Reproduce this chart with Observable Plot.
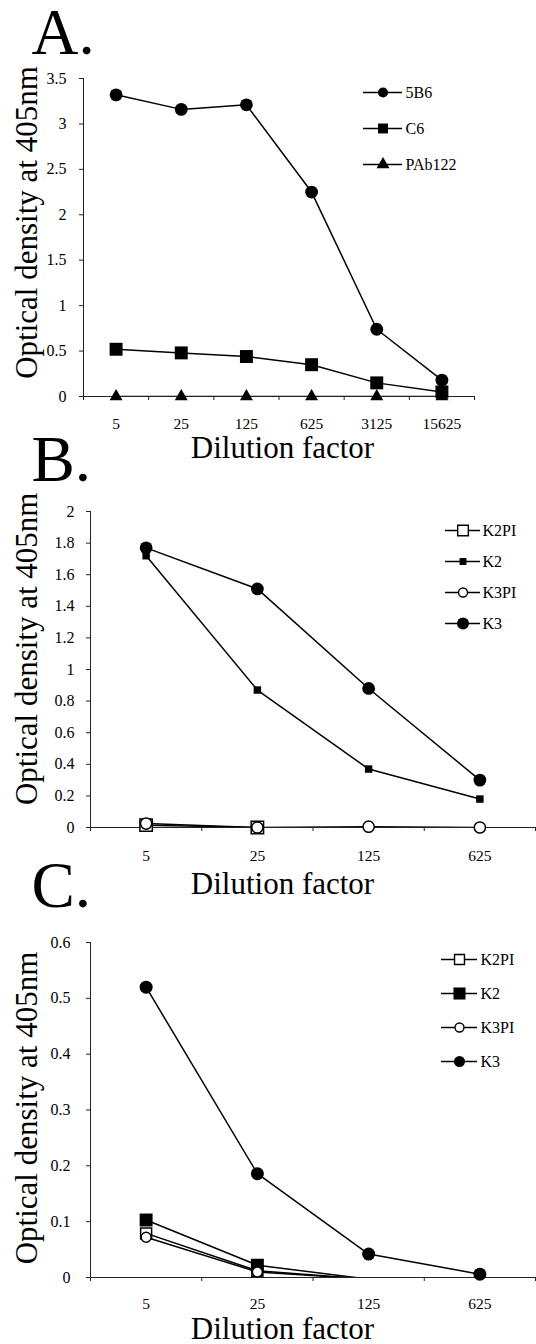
<!DOCTYPE html>
<html><head><meta charset="utf-8">
<script src="https://cdn.jsdelivr.net/npm/d3@7"></script>
<script src="https://cdn.jsdelivr.net/npm/@observablehq/plot@0.6"></script>
<style>
body{margin:0;background:#fff;}
#root{position:relative;width:536px;height:1344px;overflow:hidden;}
#root svg{position:absolute;left:0;overflow:visible;background:transparent !important;}
#root svg, #root svg text, #root svg g{font-family:"Liberation Serif","Times New Roman",Times,serif !important;}
</style></head><body><div id="root"></div>
<script>
// ---------- data ----------
const yLabel = "Optical density at 405nm";
const xLabel = "Dilution factor";

const dilutionA = ["5", "25", "125", "625", "3125", "15625"];
const namesA = ["5B6", "C6", "PAb122"];
const A_5B6 = [3.32, 3.16, 3.21, 2.25, 0.74, 0.18];
const A_C6 = [0.52, 0.48, 0.44, 0.35, 0.15, 0.05];
const A_PAb122 = [0, 0, 0, 0, 0, 0];
const yTicksA = [0, 0.5, 1, 1.5, 2, 2.5, 3, 3.5];

const dilutionBC = ["5", "25", "125", "625"];
const namesBC = ["K2PI", "K2", "K3PI", "K3"];
const B_K2PI = [0.015, 0.0, null, null];
const B_K2 = [1.72, 0.87, 0.37, 0.18];
const B_K3PI = [0.025, 0.0, 0.005, 0.0];
const B_K3 = [1.77, 1.51, 0.88, 0.30];
const yTicksB = [0, 0.2, 0.4, 0.6, 0.8, 1, 1.2, 1.4, 1.6, 1.8, 2];

const C_K2PI = [0.079, 0.012, -0.003, -0.003];
const C_K2 = [0.103, 0.022, -0.003, -0.003];
const C_K3PI = [0.072, 0.01, -0.003, -0.003];
const C_K3 = [0.52, 0.186, 0.042, 0.006];
const yTicksC = [0, 0.1, 0.2, 0.3, 0.4, 0.5, 0.6];

// ---------- style ----------
const FONT = '"Liberation Serif","Times New Roman",Times,serif';
const AXIS = "#222";
const root = document.getElementById("root");

function panel(o) {
  const n = o.cats.length;
  const idx = d3.range(n);
  const bounds = d3.range(n + 1).map(i => i - 0.5);
  const marks = [
    Plot.ruleY([0], {stroke: AXIS, strokeWidth: 1}),
    Plot.ruleX([-0.5], {stroke: AXIS, strokeWidth: 1}),
    Plot.axisY({ticks: o.yTicks, tickFormat: d => String(d), tickSize: 4, tickPadding: o.yTickPad, fontSize: 16, fontFamily: FONT, label: null, stroke: AXIS}),
    Plot.axisX({ticks: idx, tickFormat: i => o.cats[i], tickSize: 0, tickPadding: o.xTickPad, fontSize: 15.5, fontFamily: FONT, label: null}),
    Plot.axisX({ticks: bounds, tickFormat: () => "", tickSize: 4, label: null, stroke: AXIS})
  ];
  for (const s of o.series) {
    const rows = s.values.map((v, i) => ({i, v, name: s.name})).filter(d => d.v != null);
    marks.push(Plot.line(rows, {x: "i", y: "v", stroke: "black", strokeWidth: 1.5, clip: true}));
    marks.push(Plot.dot(rows.filter(d => d.v >= 0), {
      x: "i", y: "v", symbol: s.symbol, r: s.r,
      fill: s.open ? "white" : "black", stroke: "black", strokeWidth: s.open ? 1.5 : 0
    }));
  }
  marks.push(Plot.text([o.letter], {text: d => d, frameAnchor: "top-left", textAnchor: "start", lineAnchor: "bottom", dx: o.letterDx, dy: o.letterDy, fontSize: 65, fontFamily: FONT}));
  marks.push(Plot.text([yLabel], {text: d => d, frameAnchor: "left", rotate: -90, textAnchor: "middle", lineAnchor: "bottom", dx: o.ylabDx, dy: o.ylabDy, fontSize: 31, fontFamily: FONT}));
  marks.push(Plot.text([xLabel], {text: d => d, frameAnchor: "bottom", textAnchor: "middle", lineAnchor: "bottom", dx: o.xlabDx, dy: o.xlabDy, fontSize: 31, fontFamily: FONT}));

  const svg = Plot.plot({
    width: 536, height: o.height,
    marginTop: o.marginTop, marginBottom: o.marginBottom, marginLeft: o.marginLeft, marginRight: o.marginRight,
    x: {domain: [-0.5, n - 0.5]},
    y: {domain: o.yDomain},
    style: {fontFamily: FONT, fontSize: "16px", background: "transparent", overflow: "visible", color: "black"},
    marks
  });
  svg.style.top = o.top + "px";
  root.appendChild(svg);
}

function legend(o) {
  const names = o.series.map(s => s.name);
  const marks = [];
  for (const s of o.series) {
    marks.push(Plot.ruleY([s.name], {y: d => d, x1: 0, x2: 1, stroke: "black", strokeWidth: 1.3}));
    marks.push(Plot.dot([s.name], {x: 0.5, y: d => d, symbol: s.symbol, r: s.lr, fill: s.open ? "white" : "black", stroke: "black", strokeWidth: s.open ? 1.4 : 0}));
    marks.push(Plot.text([s.name], {x: 1, y: d => d, text: d => d, dx: o.labelDx, textAnchor: "start", lineAnchor: "middle", fontSize: 16, fontFamily: FONT}));
  }
  const svg = Plot.plot({
    width: 536, height: o.height,
    marginTop: o.marginTop, marginBottom: o.marginBottom, marginLeft: o.x0, marginRight: 536 - o.x1,
    x: {domain: [0, 1], axis: null},
    y: {type: "point", domain: names, padding: 0, axis: null},
    style: {fontFamily: FONT, fontSize: "16px", background: "transparent", overflow: "visible", color: "black"},
    marks
  });
  svg.style.top = o.top + "px";
  svg.style.pointerEvents = "none";
  root.appendChild(svg);
}

const seriesA = [
  {name: namesA[0], values: A_5B6, symbol: "circle", r: 6.4, lr: 5},
  {name: namesA[1], values: A_C6, symbol: "square", r: 7.3, lr: 5.6},
  {name: namesA[2], values: A_PAb122, symbol: "triangle", r: 4.8, lr: 4.8}
];
const seriesB = [
  {name: namesBC[0], values: B_K2PI, symbol: "square", r: 7, open: true, lr: 6},
  {name: namesBC[1], values: B_K2, symbol: "square", r: 4.2, lr: 3.9},
  {name: namesBC[2], values: B_K3PI, symbol: "circle", r: 5.6, open: true, lr: 4.5},
  {name: namesBC[3], values: B_K3, symbol: "circle", r: 6.4, lr: 6}
];
const seriesC = [
  {name: namesBC[0], values: C_K2PI, symbol: "square", r: 6.2, open: true, lr: 5.6},
  {name: namesBC[1], values: C_K2, symbol: "square", r: 7.3, lr: 6.8},
  {name: namesBC[2], values: C_K3PI, symbol: "circle", r: 5, open: true, lr: 4.5},
  {name: namesBC[3], values: C_K3, symbol: "circle", r: 6.5, lr: 5.5}
];

panel({top: 0, height: 470, marginTop: 78, marginBottom: 74, marginLeft: 83, marginRight: 62,
  cats: dilutionA, yDomain: [0, 3.5], yTicks: yTicksA, series: seriesA, letter: "A.",
  letterDx: -52, letterDy: -25, ylabDx: -47, ylabDy: -15, xlabDx: 3.5, xlabDy: 61, yTickPad: 13, xTickPad: 21});
panel({top: 430, height: 470, marginTop: 81, marginBottom: 73, marginLeft: 90, marginRight: 1,
  cats: dilutionBC, yDomain: [0, 2], yTicks: yTicksB, series: seriesB, letter: "B.",
  letterDx: -59, letterDy: -31, ylabDx: -54, ylabDy: -20.7, xlabDx: -30.5, xlabDy: 66, yTickPad: 12, xTickPad: 22});
panel({top: 850, height: 494, marginTop: 92, marginBottom: 67, marginLeft: 90, marginRight: 1,
  cats: dilutionBC, yDomain: [0, 0.6], yTicks: yTicksC, series: seriesC, letter: "C.",
  letterDx: -59, letterDy: -36, ylabDx: -54, ylabDy: -2, xlabDx: -30.5, xlabDy: 61, yTickPad: 16, xTickPad: 20});

legend({top: 0, height: 184, marginTop: 92, marginBottom: 20, x0: 363, x1: 402, labelDx: 3, series: seriesA});
legend({top: 430, height: 213, marginTop: 100, marginBottom: 20, x0: 445, x1: 480, labelDx: 2, series: seriesB});
legend({top: 850, height: 231, marginTop: 109, marginBottom: 20, x0: 441, x1: 477, labelDx: 3, series: seriesC});
</script></body></html>
